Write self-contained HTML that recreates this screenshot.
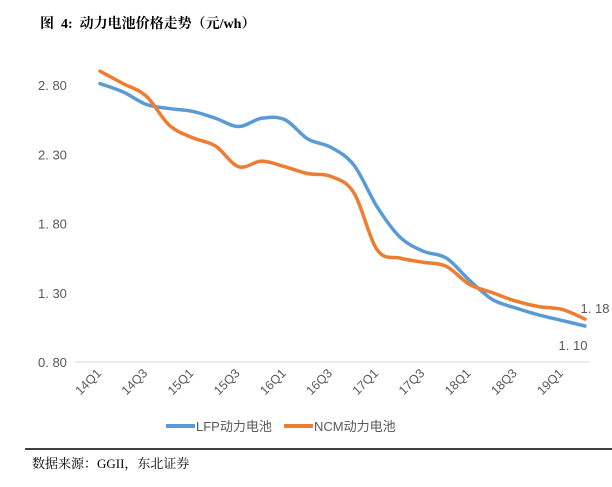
<!DOCTYPE html>
<html><head><meta charset="utf-8"><style>
body{margin:0;background:#fff;width:612px;height:487px;overflow:hidden}
svg{display:block}
text{font-family:"Liberation Sans","Noto Sans CJK SC",sans-serif}
</style></head><body>
<svg width="612" height="487" viewBox="0 0 612 487">
<text x="40" y="28" font-size="14" font-weight="bold" fill="#000" style="font-family:'Liberation Serif','Noto Serif CJK SC',serif" xml:space="preserve">图  4:  动力电池价格走势（元/wh）</text>
<g id="yax"></g><g id="xax"></g><g id="series"></g>
<g>
<line x1="166" y1="426" x2="195" y2="426" stroke="#5B9BD5" stroke-width="4"/>
<text x="196" y="431" font-size="13" fill="#595959">LFP动力电池</text>
<line x1="284" y1="426" x2="313" y2="426" stroke="#ED7D31" stroke-width="4"/>
<text x="314" y="431" font-size="13" fill="#595959">NCM动力电池</text>
</g>
<line x1="25" y1="449" x2="612" y2="449" stroke="#000" stroke-width="1.5"/>
<text x="32" y="468" font-size="13" fill="#000" style="font-family:'Liberation Serif','Noto Serif CJK SC',serif">数据来源：GGII，东北证券</text>
</svg>
<script>
const categories=["14Q1","14Q2","14Q3","14Q4","15Q1","15Q2","15Q3","15Q4","16Q1","16Q2","16Q3","16Q4","17Q1","17Q2","17Q3","17Q4","18Q1","18Q2","18Q3","18Q4","19Q1","19Q2"];
const lfp=[2.81,2.75,2.66,2.63,2.61,2.56,2.50,2.56,2.55,2.41,2.35,2.22,1.92,1.70,1.60,1.55,1.39,1.25,1.19,1.14,1.10,1.06];
const ncm=[2.90,2.81,2.72,2.51,2.42,2.36,2.21,2.25,2.21,2.16,2.14,2.02,1.61,1.55,1.52,1.49,1.36,1.30,1.24,1.20,1.18,1.11];
const yTicks=[2.80,2.30,1.80,1.30,0.80];
const endLabels=["1.10","1.18"];
const NS="http://www.w3.org/2000/svg";
const X=i=>100+i*(485/21);
const Y=v=>362-(v-0.80)*(277/2.0);
function mk(t,a,p){const e=document.createElementNS(NS,t);for(const k in a)e.setAttribute(k,a[k]);p.appendChild(e);return e;}
const yax=document.getElementById('yax'),xax=document.getElementById('xax'),ser=document.getElementById('series');
yTicks.forEach(v=>{const t=mk('text',{x:38,y:Y(v)+5,'font-size':13,fill:'#595959'},yax);t.textContent=v.toFixed(2).replace('.','. ');

});
const base=mk('line',{x1:75,x2:590,y1:Y(0.80),y2:Y(0.80),stroke:'#d9d9d9','stroke-width':1},yax);


categories.forEach((c,i)=>{if(i%2)return;const x=X(i)+2,y=374;const t=mk('text',{x:x,y:y,'font-size':12.5,fill:'#595959','text-anchor':'end',transform:`rotate(-45 ${x} ${y})`},xax);t.textContent=c;

});
function path(vals){const p=vals.map((v,i)=>[X(i),Y(v)]);let d=`M${p[0][0]},${p[0][1]}`;
for(let i=0;i<p.length-1;i++){const p0=p[i-1]||p[i],p1=p[i],p2=p[i+1],p3=p[i+2]||p2;
d+=` C${p1[0]+(p2[0]-p0[0])/6},${p1[1]+(p2[1]-p0[1])/6} ${p2[0]-(p3[0]-p1[0])/6},${p2[1]-(p3[1]-p1[1])/6} ${p2[0]},${p2[1]}`;}return d;}
const l1=mk('path',{d:path(lfp),fill:'none',stroke:'#5B9BD5','stroke-width':3.5,'stroke-linecap':'round'},ser);


const l2=mk('path',{d:path(ncm),fill:'none',stroke:'#ED7D31','stroke-width':3.5,'stroke-linecap':'round'},ser);


const n=categories.length-1;
const a=mk('text',{x:X(n)-12,y:Y(lfp[n])+24,'font-size':13,fill:'#595959','text-anchor':'middle'},ser);a.textContent=endLabels[0].replace('.','. ');


const b=mk('text',{x:X(n)+10,y:Y(ncm[n])-6,'font-size':13,fill:'#595959','text-anchor':'middle'},ser);b.textContent=endLabels[1].replace('.','. ');


</script>
</body></html>
